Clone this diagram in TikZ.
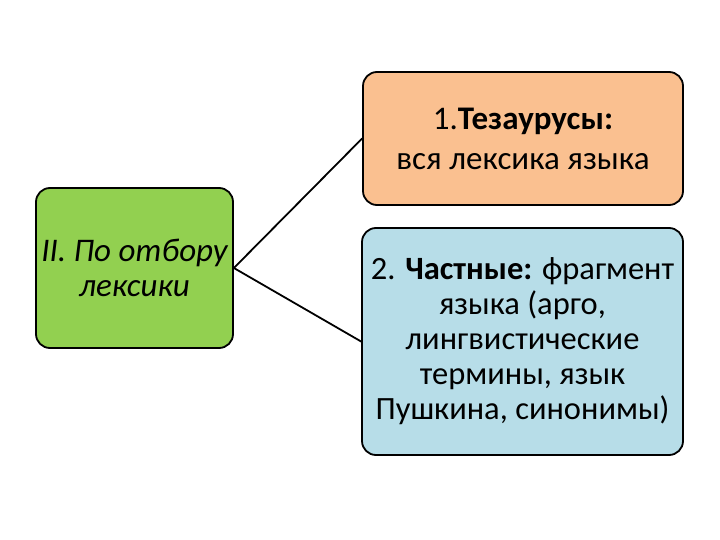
\documentclass[tikz,border=0pt]{standalone}
\usepackage{fontspec}
\setmainfont{Carlito}
\usepackage{xcolor}
\definecolor{leafgreen}{HTML}{92D050}
\definecolor{peach}{HTML}{FAC090}
\definecolor{paleblue}{HTML}{B7DDE8}

\begin{document}
\begin{tikzpicture}[x=1pt,y=-1pt,line cap=round,
  box/.style={draw=black,line width=1.8pt,rounded corners=14pt,align=center,inner sep=0pt},
  txt/.style={font=\fontsize{32.5}{35}\selectfont}]
\useasboundingbox (0,0) rectangle (720,540);
\node[box,font=\fontsize{33}{35}\selectfont,fill=leafgreen,minimum width=197pt,minimum height=160pt] (otbor) at (134.5,268) {\itshape II. По отбору\\\itshape лексики};
\node[box,font=\fontsize{33}{40}\selectfont,fill=peach,minimum width=320pt,minimum height=133pt] (tezaurus) at (523,138.5) {1.\textbf{Тезаурусы:}\\вся лексика языка};
\node[box,txt,fill=paleblue,minimum width=321pt,minimum height=227pt] (chastnye) at (522.5,341.5) {2. \textbf{Частные:} фрагмент\\языка (арго,\\лингвистические\\термины, язык\\Пушкина, синонимы)};
\draw[line width=1.8pt] (otbor.east) -- (tezaurus.west);
\draw[line width=1.8pt] (otbor.east) -- (chastnye.west);
\end{tikzpicture}
\end{document}
